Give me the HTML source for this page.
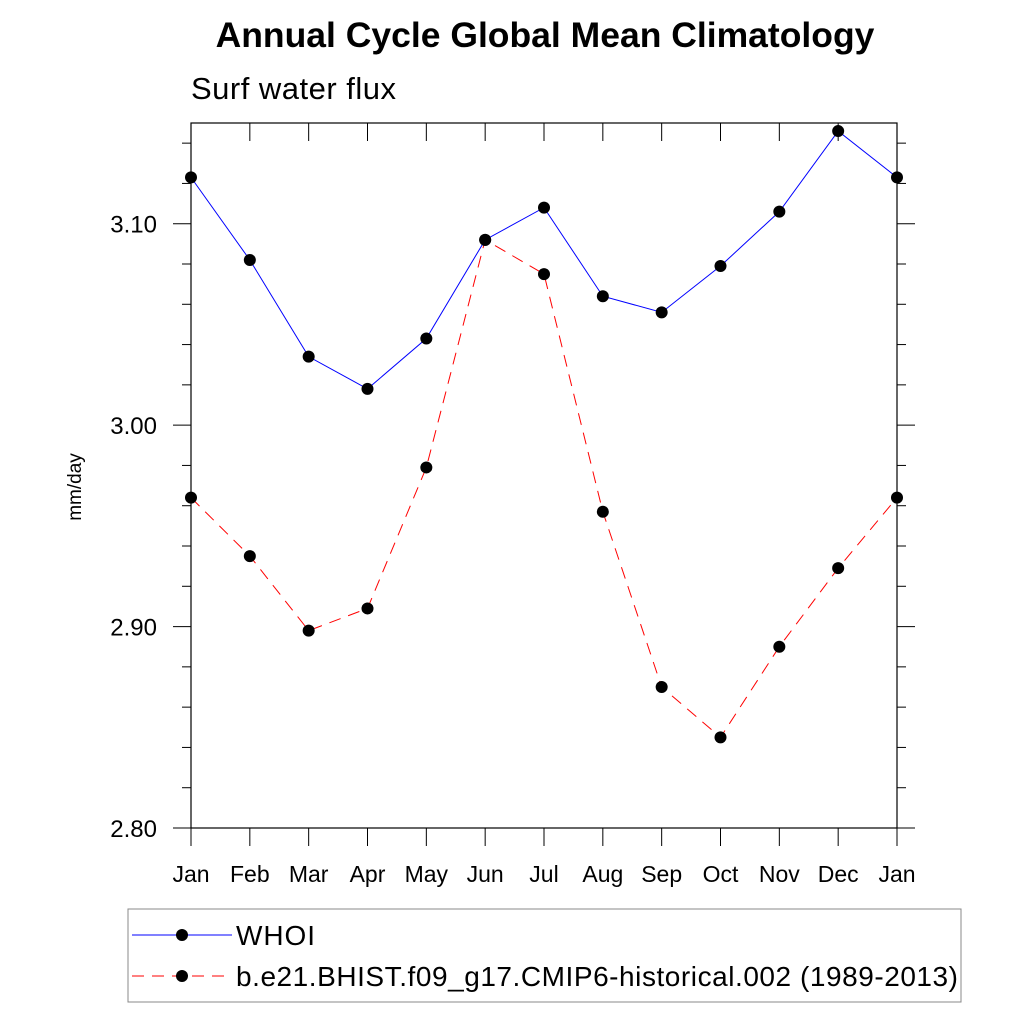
<!DOCTYPE html>
<html><head><meta charset="utf-8"><style>
body{margin:0;background:#fff;}
svg text{font-family:"Liberation Sans",Arial,sans-serif;}
</style></head><body>
<svg id="chart" width="1024" height="1024" xmlns="http://www.w3.org/2000/svg">
<text x="545" y="47" text-anchor="middle" font-size="35.5" font-weight="bold">Annual Cycle Global Mean Climatology</text>
<text x="191" y="99" font-size="31" textLength="205">Surf water flux</text>
<text transform="translate(81,487) rotate(-90)" text-anchor="middle" font-size="19">mm/day</text>
<g id="axes"></g>
<g id="series"></g>
<rect x="128" y="909" width="833" height="93" fill="none" stroke="#888" stroke-width="1"/>
<g>
<line x1="132" y1="935" x2="232" y2="935" stroke="#00f" stroke-width="1"/>
<circle cx="182" cy="935" r="6" fill="#000"/>
<text x="236" y="945" font-size="28" textLength="79">WHOI</text>
</g>
<g>
<line x1="132" y1="976" x2="232" y2="976" stroke="#f00" stroke-width="1" stroke-dasharray="12,8"/>
<circle cx="182" cy="976" r="6" fill="#000"/>
<text x="236" y="986" font-size="28" textLength="722">b.e21.BHIST.f09_g17.CMIP6-historical.002 (1989-2013)</text>
</g>
</svg>
<script>
const months=["Jan","Feb","Mar","Apr","May","Jun","Jul","Aug","Sep","Oct","Nov","Dec","Jan"];
const whoi=[3.123,3.082,3.034,3.018,3.043,3.092,3.108,3.064,3.056,3.079,3.106,3.146,3.123];
const model=[2.964,2.935,2.898,2.909,2.979,3.092,3.075,2.957,2.870,2.845,2.890,2.929,2.964];
const yTicks=[2.80,2.90,3.00,3.10];
const yMin=2.80,yMax=3.15;
const L=191,R=897,T=123,B=828;
const NS="http://www.w3.org/2000/svg";
const xS=i=>L+i*(R-L)/(months.length-1);
const yS=v=>B-(v-yMin)/(yMax-yMin)*(B-T);
function mk(tag,attrs,parent){const e=document.createElementNS(NS,tag);for(const k in attrs)e.setAttribute(k,attrs[k]);parent.appendChild(e);return e;}
const ax=document.getElementById('axes');
const frame=mk('rect',{x:L,y:T,width:R-L,height:B-T,fill:'none',stroke:'#000','stroke-width':1.2},ax);


for(let v=yMin;v<=yMax+1e-9;v+=0.02){
  const y=yS(v);const major=Math.abs(Math.round(v*10)/10-v)<1e-6;
  const len=major?18:9;
  mk('line',{x1:L-len,y1:y,x2:L,y2:y,stroke:'#000','stroke-width':1},ax);
  mk('line',{x1:R,y1:y,x2:R+len,y2:y,stroke:'#000','stroke-width':1},ax);
}
yTicks.forEach(v=>{
  const t=mk('text',{x:L-34,y:yS(v)+9,'text-anchor':'end','font-size':24},ax);
  t.textContent=v.toFixed(2);
  
  
});
months.forEach((m,i)=>{
  const x=xS(i);
  mk('line',{x1:x,y1:B,x2:x,y2:B+18,stroke:'#000','stroke-width':1},ax);
  mk('line',{x1:x,y1:T,x2:x,y2:T+18,stroke:'#000','stroke-width':1},ax);
  const t=mk('text',{x:x,y:882,'text-anchor':'middle','font-size':23},ax);
  t.textContent=m;
  
  
});
const sg=document.getElementById('series');
function draw(vals,color,dash,name){
  const g=mk('g',{},sg);
  
  
  const pts=vals.map((v,i)=>xS(i)+','+yS(v)).join(' ');
  const a={points:pts,fill:'none',stroke:color,'stroke-width':1};
  if(dash)a['stroke-dasharray']=dash;
  mk('polyline',a,g);
  vals.forEach((v,i)=>{
    const c=mk('circle',{cx:xS(i),cy:yS(v),r:6,fill:'#000'},g);
    
    
  });
}
draw(model,'#f00','12,8','model-series');
draw(whoi,'#00f',null,'whoi-series');
</script>
</body></html>
